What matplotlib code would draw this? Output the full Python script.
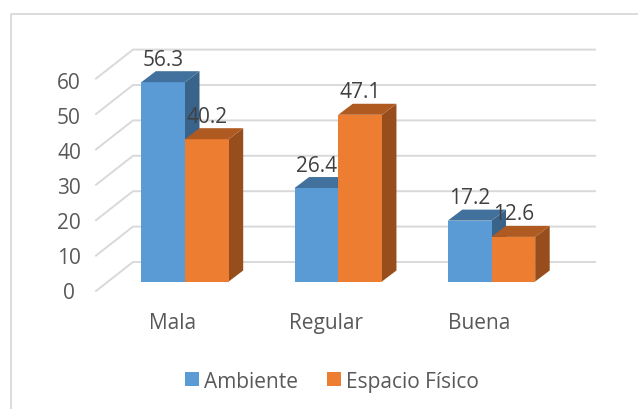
import numpy as np
from matplotlib import pyplot as plt
from matplotlib.patches import Polygon, Rectangle

plt.rcParams['font.family'] = ['Open Sans', 'DejaVu Sans']

categories = ['Mala', 'Regular', 'Buena']
ambiente = [56.3, 26.4, 17.2]
espacio = [40.2, 47.1, 12.6]
yticks = [0, 10, 20, 30, 40, 50, 60]

W, H = 638, 410
# pixel scale of the fake 3d view
pxX = 153.25
pxY = 3.54
x0 = 185
y0 = 282.5

barW = 43.7 / pxX
depthX = 14.5 / pxX
depthY = 11 / pxY
fs = 15

fig = plt.figure(figsize=(W / 100, H / 100), dpi=100)
ax = fig.add_axes([0, 0, 1, 1])
ax.set_xlim(-x0 / pxX, (W - x0) / pxX)
ax.set_ylim((y0 - H) / pxY, y0 / pxY)
ax.axis('off')


def px(x, y):
    return (x - x0) / pxX, (y0 - y) / pxY


# chart frame
frameCol = '#d9d9d9'
ax.plot(*zip(px(10.5, 410), px(10.5, 14.5), px(638, 14.5)), color=frameCol, lw=1.3)

# gridlines and tick labels
gridCol = '#d9d9d9'
frontX = px(96, 0)[0]
backX = px(133, 0)[0]
endX = px(595, 0)[0]
frontOff = px(0, 292)[1]
backOff = px(0, 263)[1]
for v in yticks:
    ax.plot([frontX, backX, endX], [v + frontOff, v + backOff, v + backOff], color=gridCol, lw=1.4, zorder=1)
    ax.text(px(69, 0)[0], v * 0.99 + px(0, 293.5)[1], str(v), ha='center', va='center',
            fontsize=fs, color='#595959')


def bar3d(x, val, front, top, side):
    ax.bar(x, val, width=barW, align='edge', color=front, zorder=3)
    ax.add_patch(Polygon([(x, val), (x + barW, val), (x + barW + depthX, val + depthY), (x + depthX, val + depthY)],
                         closed=True, color=top, lw=0, zorder=3))
    ax.add_patch(Polygon([(x + barW, 0), (x + barW + depthX, depthY), (x + barW + depthX, val + depthY), (x + barW, val)],
                         closed=True, color=side, lw=0, zorder=2))


blue = ['#5b9bd5', '#41719c', '#3a6389']
orange = ['#ed7d31', '#ae5a21', '#974e1c']
pos = np.arange(len(categories))
labelOff = 23 / pxY
for i in pos:
    bar3d(i - barW, ambiente[i], blue[0], blue[1], blue[2])
    bar3d(i, espacio[i], orange[0], orange[1], orange[2])
    ax.text(i - barW / 2, ambiente[i] + labelOff, str(ambiente[i]), ha='center', va='center',
            fontsize=fs, color='#404040', zorder=5)
    ax.text(i + barW / 2, espacio[i] + labelOff, str(espacio[i]), ha='center', va='center',
            fontsize=fs, color='#404040', zorder=5)
    ax.text(i - 0.08, px(0, 324)[1], categories[i], ha='center', va='center', fontsize=fs, color='#595959')

# legend
for xp, col, name in [(185, blue[0], 'Ambiente'), (327, orange[0], 'Espacio Físico')]:
    ax.add_patch(Rectangle(px(xp, 387), 13.5 / pxX, 14 / pxY, color=col, lw=0))
    ax.text(px(xp + 19, 0)[0], px(0, 382.5)[1], name, ha='left', va='center', fontsize=fs, color='#595959')

fig.savefig('out.png', dpi=100)
